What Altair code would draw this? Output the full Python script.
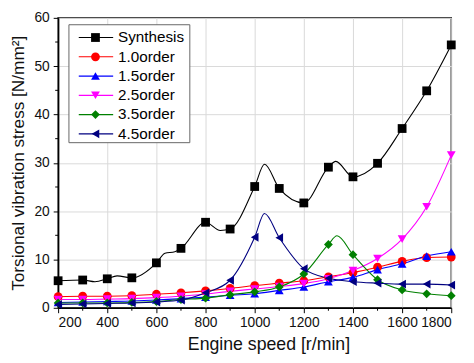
import altair as alt
import pandas as pd

speeds = [200, 300, 400, 500, 600, 700, 800, 900, 1000, 1100, 1200, 1300, 1400, 1500, 1600, 1700, 1800]
series_names = ["Synthesis", "1.0order", "1.5order", "2.5order", "3.5order", "4.5order"]

synthesis = [5.6, 5.75, 6.0, 6.2, 9.3, 12.3, 17.7, 16.3, 25.1, 24.7, 21.7, 29.1, 27.1, 29.9, 37.1, 44.9, 54.4]
order_1_0 = [2.3, 2.4, 2.4, 2.5, 2.8, 3.1, 3.5, 4.0, 4.6, 5.1, 5.6, 6.4, 7.3, 8.4, 9.6, 10.4, 10.5]
order_1_5 = [1.1, 1.2, 1.3, 1.4, 1.6, 1.9, 2.2, 2.6, 2.9, 3.6, 4.3, 5.4, 6.3, 7.9, 9.1, 10.7, 11.6]
order_2_5 = [1.7, 1.7, 1.8, 1.9, 2.1, 2.4, 2.85, 3.4, 3.9, 4.4, 5.0, 6.0, 7.7, 10.2, 14.2, 20.9, 31.6]
order_3_5 = [1.0, 1.0, 1.0, 1.1, 1.3, 1.7, 2.0, 2.7, 3.3, 4.3, 7.0, 13.1, 11.0, 5.8, 3.7, 2.9, 2.5]
order_4_5 = [0.7, 0.8, 0.9, 1.0, 1.2, 1.6, 3.1, 5.7, 14.6, 14.5, 8.1, 6.1, 5.4, 5.1, 4.9, 4.9, 4.7]

# extra points of the drawn curves between the markers (peaks / wiggles)
synthesis_curve_x = [350, 440, 635, 675, 860, 1040, 1330]
synthesis_curve_y = [5.4, 6.6, 11.3, 11.6, 16.0, 29.7, 30.3]
order_3_5_curve_x = [1335]
order_3_5_curve_y = [14.9]
order_4_5_curve_x = [1040]
order_4_5_curve_y = [19.5]

colors = ["#000000", "#ff0000", "#0000ff", "#ff00ff", "#008000", "#000080"]
shapes = ["square", "circle", "triangle-up", "triangle-down", "diamond", "triangle-left"]

x_major = [200, 400, 600, 800, 1000, 1200, 1400, 1600, 1800]
x_minor = [300, 500, 700, 900, 1100, 1300, 1500, 1700]
y_major = [0, 10, 20, 30, 40, 50, 60]
y_minor = [5, 15, 25, 35, 45, 55]

values = [synthesis, order_1_0, order_1_5, order_2_5, order_3_5, order_4_5]
extras = {
    "Synthesis": (synthesis_curve_x, synthesis_curve_y),
    "3.5order": (order_3_5_curve_x, order_3_5_curve_y),
    "4.5order": (order_4_5_curve_x, order_4_5_curve_y),
}

pt_rows, ln_rows = [], []
for i, (name, vals) in enumerate(zip(series_names, values)):
    for s, v in zip(speeds, vals):
        pt_rows.append({"series": name, "order": i, "speed": s, "stress": v})
        ln_rows.append({"series": name, "order": i, "speed": s, "stress": v})
    if name in extras:
        for s, v in zip(*extras[name]):
            ln_rows.append({"series": name, "order": i, "speed": s, "stress": v})
points_df = pd.DataFrame(pt_rows)
lines_df = pd.DataFrame(ln_rows).sort_values(["order", "speed"])
legend_df = pd.DataFrame({"series": series_names, "idx": list(range(len(series_names)))})

W, H = 400, 295
FONT = "Liberation Sans"

x_scale = alt.Scale(domain=[200, 1800], nice=False)
y_scale = alt.Scale(domain=[0, 60], nice=False)
color_scale = alt.Scale(domain=series_names, range=colors)
shape_scale = alt.Scale(domain=series_names, range=shapes)

x_axis = alt.Axis(
    values=x_major, format="d", title="Engine speed [r/min]", grid=True, labelPadding=3,
    titleX=214, titleY=42, titleAlign="center", titleBaseline="alphabetic", titleFontSize=18)
y_axis = alt.Axis(
    values=y_major, format="d", title="Torsional vibration stress [N/mm²]", grid=True, labelPadding=4,
    titleX=-35, titleY=147.5, titleAlign="center", titleBaseline="alphabetic", titleAngle=270,
    titleFontSize=17.5)
x_enc = alt.X("speed:Q", scale=x_scale, axis=x_axis)
y_enc = alt.Y("stress:Q", scale=y_scale, axis=y_axis)

lines = alt.Chart(lines_df).mark_line(interpolate="monotone", strokeWidth=1.1).encode(
    x=x_enc, y=y_enc,
    color=alt.Color("series:N", scale=color_scale, legend=None),
    detail="series:N",
)

pts = alt.Chart(points_df).mark_point(filled=True, size=80, opacity=1).encode(
    x=x_enc, y=y_enc,
    color=alt.Color("series:N", scale=color_scale, legend=None),
    shape=alt.Shape("series:N", scale=shape_scale, legend=None),
    order=alt.Order("order:Q"),
)

xminor = alt.Chart(pd.DataFrame({"speed": x_minor})).mark_rule(color="black", strokeWidth=1).encode(
    x=x_enc, y=alt.value(H), y2=alt.value(H + 3))
yminor = alt.Chart(pd.DataFrame({"stress": y_minor})).mark_rule(color="black", strokeWidth=1).encode(
    y=y_enc, x=alt.value(0), x2=alt.value(-3))

main = alt.layer(lines, pts, xminor, yminor)

# legend (drawn as marks)
leg_y = alt.Y("idx:Q", scale=alt.Scale(domain=[0, 5], range=[20, 118]), axis=None)
box = alt.Chart(pd.DataFrame({"a": [0]})).mark_rect(
    fill="white", stroke="#666666", strokeWidth=1).encode(
    x=alt.value(11), x2=alt.value(134), y=alt.value(7), y2=alt.value(127))
leg_lines = alt.Chart(legend_df).mark_rule(strokeWidth=1.2).encode(
    x=alt.value(21), x2=alt.value(56), y=leg_y,
    color=alt.Color("series:N", scale=color_scale, legend=None))
leg_pts = alt.Chart(legend_df).mark_point(filled=True, size=80, opacity=1).encode(
    x=alt.value(38), y=leg_y,
    color=alt.Color("series:N", scale=color_scale, legend=None),
    shape=alt.Shape("series:N", scale=shape_scale, legend=None))
leg_text = alt.Chart(legend_df).mark_text(
    align="left", baseline="middle", font=FONT, fontSize=15.5, color="black").encode(
    x=alt.value(61), y=leg_y, text="series:N")
leg = alt.layer(box, leg_lines, leg_pts, leg_text)

chart = alt.layer(main, leg).resolve_scale(y="independent").properties(
    width=W, height=H, autosize="none",
    padding={"left": 51, "top": 7, "right": 15, "bottom": 45},
).configure_view(stroke="#333333", strokeWidth=1.5).configure_axis(
    labelFont=FONT, labelFontSize=14, labelColor="#111111",
    titleFont=FONT, titleFontWeight="normal", titleColor="#111111",
    domainColor="black", domainWidth=1.5, tickColor="black", tickSize=5,
    gridColor="#d9d9d9", gridWidth=1,
)

chart.save("out.html", embed_options={"renderer": "svg", "actions": False})
